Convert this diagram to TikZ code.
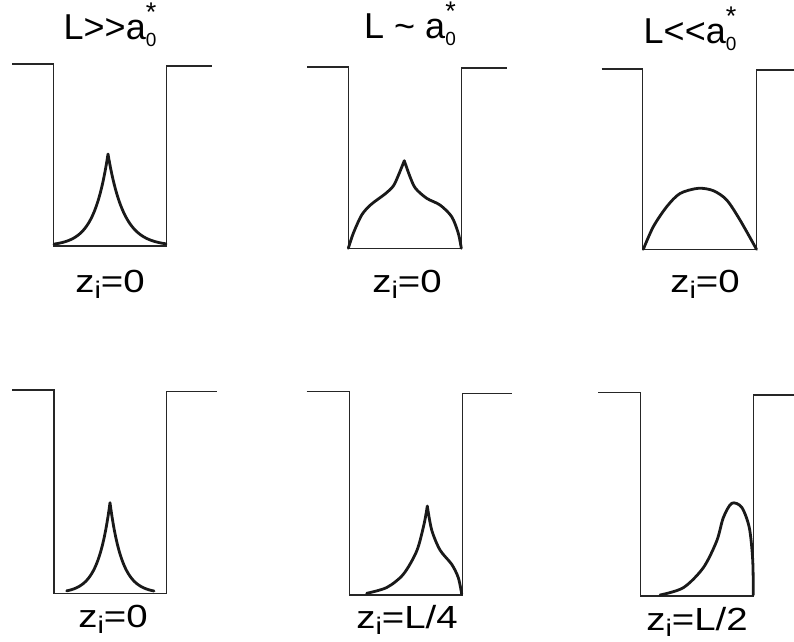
\documentclass[tikz,border=0pt]{standalone}
\usepackage{fontspec}
\setmainfont{Liberation Sans}
\begin{document}
\begin{tikzpicture}[x=1pt,y=-1pt,
  well/.style={draw=black!85,line width=1.5pt},
  wave/.style={draw=black!90,line width=2.8pt,line join=round,line cap=round},
  ttl/.style={anchor=base,inner sep=0pt,font=\fontsize{36}{40}\selectfont},
  lab/.style={anchor=base,inner sep=0pt,font=\fontsize{32}{36}\selectfont}]
\useasboundingbox (0,0) rectangle (794,641);
\newcommand{\zsub}{z\raisebox{-0.2em}{\fontsize{24}{26}\selectfont i}}
\newcommand{\astar}{a\rlap{\raisebox{-0.2em}{\fontsize{19}{20}\selectfont 0}}\raisebox{0.5em}{\fontsize{27}{28}\selectfont *}}
% titles
\node[ttl] (t1) at (110,39.5) {L>\kern0pt>\kern0pt\astar};
\node[ttl] (t2) at (410,38.5) {L \char`~{} \astar};
\node[ttl] (t3) at (690,43) {L<\kern0pt<\kern0pt\astar};
% labels
\node[lab] (l1) at (110,292) {\scalebox{1.2}[1]{\zsub=0}};
\node[lab] (l2) at (407,292) {\scalebox{1.2}[1]{\zsub=0}};
\node[lab] (l3) at (705,292) {\scalebox{1.2}[1]{\zsub=0}};
\node[lab] (l4) at (113,627) {\scalebox{1.2}[1]{\zsub=0}};
\node[lab] (l5) at (407,628.5) {\scalebox{1.2}[1]{\zsub=L/4}};
\node[lab] (l6) at (697,630) {\scalebox{1.2}[1]{\zsub=L/2}};
% wells
\draw[well] (12,64) -- (53.3,64) -- (53.3,246) -- (166.7,246) -- (166.7,66) -- (212,66);
\draw[well] (307,67) -- (348.3,67) -- (348.3,248.3) -- (461.7,248.3) -- (461.7,68) -- (507,68);
\draw[well] (601.7,69) -- (642.7,69) -- (642.7,249.3) -- (756.7,249.3) -- (756.7,70) -- (794,70);
\draw[well] (12,390) -- (54,390) -- (54,593.3) -- (166.7,593.3) -- (166.7,391.7) -- (216.7,391.7);
\draw[well] (306.7,391.7) -- (349.3,391.7) -- (349.3,595) -- (462.3,595) -- (462.3,393.3) -- (511.7,393.3);
\draw[well] (598.3,392.7) -- (640.7,392.7) -- (640.7,596) -- (753.3,596) -- (753.3,395) -- (794,395);
% wavefunctions
\draw[wave] plot[domain=54:108,samples=60] (\x,{246-92*exp(-(108-\x)/14)})
  -- plot[domain=108:166,samples=60] (\x,{246-92*exp(-(\x-108)/15.5)});
\draw[wave] plot[smooth] coordinates {(348.3,248.3) (353.3,233.3) (361.7,215) (371,204.5) (385,194) (393.3,186) (398.3,175.5) (404.3,160.7)}
  -- plot[smooth] coordinates {(404.3,160.7) (410,176.7) (415.5,188.3) (426.7,198.3) (440,205) (451.7,216.7) (458.3,233.3) (461.3,248.3)};
\draw[wave] plot[smooth] coordinates {(643.3,249.3) (653.3,226.7) (666.7,206.7) (680,193.5) (698.3,188.3) (713.3,190.7) (726.7,200) (740,220) (756.5,249.3)};
\draw[wave] plot[domain=66.7:110,samples=60] (\x,{593.3-90.6*exp(-(110-\x)/12)})
  -- plot[domain=110:154,samples=60] (\x,{593.3-90.6*exp(-(\x-110)/12)});
\draw[wave] plot[smooth] coordinates {(366.7,593.3) (386.7,587.5) (403.3,574.3) (416.7,551) (424,524.3) (427.3,506)}
  -- plot[smooth] coordinates {(427.3,506) (431.7,530) (440,550) (451.7,564.3) (458.3,577.7) (461.7,594)};
\draw[wave] plot[smooth] coordinates {(660,595) (683.3,587.7) (703.3,567.7) (716.7,541) (723.3,517.7) (731.7,503.3) (741.7,507.3) (749.3,527.7) (752.7,560) (753.3,595)};
\end{tikzpicture}
\end{document}
